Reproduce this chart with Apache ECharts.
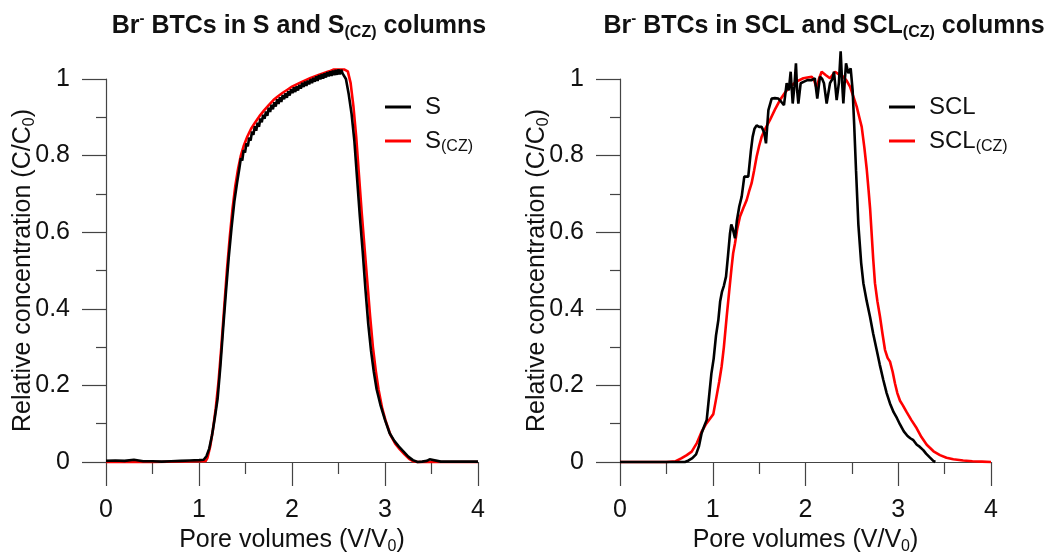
<!DOCTYPE html>
<html>
<head>
<meta charset="utf-8">
<script src="https://cdn.jsdelivr.net/npm/echarts@6/dist/echarts.min.js"></script>
<style>
html,body{margin:0;padding:0;background:#fff;}
#chart{width:1051px;height:557px;}
</style>
</head>
<body>
<div id="chart"></div>
<script>
// ---- Data (pore volume V/V0, relative concentration C/C0) ----
const xTicks = [0, 1, 2, 3, 4];
const yTicks = [0, 0.2, 0.4, 0.6, 0.8, 1];

const sBlack = [
[0,0.003],[0.1,0.004],[0.2,0.003],[0.3,0.006],[0.4,0.002],[0.5,0.002],[0.6,0.001],[0.7,0.002],[0.8,0.003],[0.9,0.004],[1.0,0.005],[1.05,0.006],
[1.08,0.015],[1.11,0.035],[1.14,0.07],[1.17,0.115],[1.2,0.165],[1.23,0.25],[1.26,0.35],[1.29,0.445],[1.32,0.535],[1.35,0.612],[1.38,0.68],[1.41,0.73],[1.435,0.768],
[1.45,0.793],[1.465,0.787],[1.48,0.814],[1.495,0.808],[1.51,0.832],[1.525,0.824],[1.54,0.847],[1.555,0.839],[1.57,0.863],[1.585,0.854],
[1.6,0.877],[1.615,0.865],[1.63,0.886],[1.645,0.875],[1.66,0.897],[1.675,0.887],[1.69,0.907],[1.705,0.896],[1.72,0.915],[1.735,0.904],
[1.75,0.925],[1.765,0.914],[1.78,0.933],[1.795,0.921],[1.81,0.939],[1.825,0.928],[1.84,0.947],[1.855,0.935],[1.87,0.952],[1.885,0.940],
[1.9,0.958],[1.915,0.947],[1.93,0.963],[1.945,0.951],[1.96,0.968],[1.975,0.957],[1.99,0.973],[2.005,0.963],[2.02,0.978],[2.035,0.966],
[2.05,0.981],[2.065,0.970],[2.08,0.985],[2.095,0.975],[2.11,0.990],[2.125,0.979],[2.14,0.993],[2.155,0.982],[2.17,0.996],[2.185,0.986],
[2.2,1.000],[2.215,0.989],[2.23,1.003],[2.245,0.993],[2.26,1.007],[2.275,0.995],[2.29,1.010],[2.305,0.999],[2.32,1.013],[2.335,1.001],
[2.35,1.015],[2.365,1.004],[2.38,1.018],[2.395,1.007],[2.41,1.020],[2.425,1.008],[2.44,1.022],[2.455,1.010],[2.47,1.024],[2.485,1.011],
[2.5,1.025],[2.515,1.012],[2.53,1.024],[2.545,1.014],
[2.58,1.0],[2.61,0.96],[2.64,0.91],[2.67,0.84],[2.7,0.74],[2.73,0.64],[2.76,0.55],[2.79,0.45],[2.82,0.36],[2.85,0.29],[2.88,0.235],[2.91,0.19],[2.95,0.15],
[3.0,0.11],[3.05,0.075],[3.1,0.055],[3.15,0.04],[3.2,0.027],[3.25,0.014],[3.3,0.005],[3.35,0.0],[3.4,0.001],[3.45,0.003],[3.48,0.007],[3.5,0.003],[3.6,0.001],[3.8,0.001],[4.0,0.001]
];
const sRed = [
[0,0.0],[0.5,0.0],[1.0,0.002],[1.07,0.002],[1.09,0.01],[1.12,0.04],[1.15,0.085],[1.18,0.14],[1.21,0.21],[1.24,0.3],[1.27,0.4],[1.3,0.5],[1.33,0.585],[1.36,0.66],
[1.39,0.72],[1.42,0.765],[1.45,0.8],[1.48,0.825],[1.52,0.85],[1.56,0.87],[1.6,0.885],[1.65,0.903],[1.7,0.918],[1.75,0.932],[1.8,0.945],[1.85,0.955],[1.9,0.964],
[1.95,0.972],[2.0,0.98],[2.1,0.992],[2.2,1.003],[2.3,1.012],[2.4,1.02],[2.45,1.025],[2.5,1.025],[2.56,1.025],[2.6,1.02],[2.63,0.99],[2.66,0.93],[2.69,0.85],
[2.72,0.75],[2.75,0.65],[2.78,0.56],[2.81,0.47],[2.84,0.38],[2.87,0.3],[2.9,0.24],[2.93,0.19],[2.97,0.14],[3.01,0.105],[3.06,0.07],[3.11,0.048],[3.16,0.033],
[3.21,0.02],[3.26,0.008],[3.3,0.002],[3.35,0.0],[4.0,0.0]
];
const sclBlack = [
[0,0],[0.5,0],[0.7,0],[0.74,0.004],[0.78,0.01],[0.82,0.02],[0.85,0.04],[0.88,0.075],[0.91,0.095],[0.935,0.11],[0.96,0.17],[0.985,0.23],[1.01,0.27],[1.035,0.33],
[1.06,0.37],[1.08,0.42],[1.1,0.445],[1.12,0.46],[1.143,0.484],[1.165,0.54],[1.186,0.597],[1.2,0.62],[1.215,0.61],[1.24,0.584],[1.26,0.63],[1.286,0.667],[1.312,0.693],
[1.34,0.745],[1.36,0.75],[1.383,0.745],[1.41,0.81],[1.43,0.849],[1.45,0.87],[1.473,0.879],[1.5,0.875],[1.527,0.875],[1.555,0.86],[1.574,0.832],[1.6,0.919],[1.635,0.949],
[1.67,0.95],[1.707,0.949],[1.74,0.94],[1.768,0.932],[1.797,0.989],[1.82,0.97],[1.84,1.019],[1.862,0.936],[1.88,0.98],[1.897,1.041],[1.91,0.97],[1.923,0.936],[1.948,0.989],
[1.984,0.993],[2.02,0.997],[2.067,0.997],[2.1,1.002],[2.127,0.949],[2.156,1.006],[2.18,1.0],[2.199,0.989],[2.228,0.936],[2.264,0.989],[2.29,1.0],[2.307,1.019],[2.336,0.945],
[2.36,0.99],[2.379,1.072],[2.395,0.99],[2.408,0.936],[2.425,1.0],[2.437,1.041],[2.462,1.015],[2.487,1.028],[2.508,0.971],[2.525,0.88],[2.545,0.76],[2.57,0.62],[2.6,0.52],
[2.624,0.467],[2.66,0.42],[2.695,0.38],[2.73,0.335],[2.767,0.293],[2.8,0.255],[2.839,0.214],[2.875,0.18],[2.911,0.153],[2.95,0.13],[2.985,0.115],[3.019,0.098],[3.06,0.08],
[3.1,0.068],[3.13,0.062],[3.163,0.057],[3.2,0.045],[3.23,0.04],[3.27,0.031],[3.3,0.022],[3.34,0.012],[3.378,0.003],[3.4,0]
];
const sclRed = [
[0,0],[0.5,0],[0.6,0.002],[0.665,0.01],[0.72,0.018],[0.773,0.027],[0.83,0.05],[0.88,0.079],[0.93,0.1],[0.97,0.113],[1.006,0.125],[1.04,0.17],[1.07,0.21],[1.096,0.25],
[1.12,0.3],[1.15,0.379],[1.177,0.445],[1.204,0.51],[1.22,0.545],[1.24,0.571],[1.265,0.61],[1.294,0.641],[1.33,0.663],[1.366,0.684],[1.39,0.705],[1.419,0.728],[1.445,0.76],
[1.473,0.797],[1.5,0.825],[1.527,0.849],[1.57,0.872],[1.617,0.893],[1.67,0.92],[1.725,0.945],[1.78,0.965],[1.833,0.98],[1.9,0.993],[1.977,1.002],[2.02,1.004],[2.067,1.006],
[2.095,0.995],[2.12,0.976],[2.145,1.0],[2.174,1.019],[2.22,1.01],[2.264,1.002],[2.29,1.01],[2.318,1.019],[2.36,1.012],[2.408,1.006],[2.445,0.995],[2.48,0.98],[2.515,0.955],
[2.552,0.928],[2.58,0.9],[2.606,0.875],[2.635,0.82],[2.66,0.765],[2.68,0.71],[2.697,0.66],[2.713,0.597],[2.73,0.53],[2.749,0.467],[2.775,0.42],[2.803,0.38],[2.83,0.335],
[2.857,0.293],[2.885,0.272],[2.911,0.262],[2.94,0.235],[2.965,0.205],[2.99,0.18],[3.019,0.16],[3.05,0.148],[3.091,0.13],[3.14,0.11],[3.199,0.088],[3.25,0.065],[3.307,0.045],
[3.38,0.028],[3.45,0.018],[3.52,0.011],[3.594,0.007],[3.7,0.004],[3.8,0.002],[3.9,0.001],[4.0,0.0]
];

const titles = ['Br{sup|-} BTCs in S and S{sub|(CZ)} columns', 'Br{sup|-} BTCs in SCL and SCL{sub|(CZ)} columns'];
const legendNames = [['S', 'S(CZ)'], ['SCL', 'SCL(CZ)']];
const xName = 'Pore volumes (V/V{sub|0})';
const yName = 'Relative concentration (C/C{sub|0})';

// ---- Styling ----
const FONT = '"Liberation Sans", Arial, Helvetica, sans-serif';
const AX = '#444';
const grids = [
  {left: 106, top: 79, width: 372, height: 383, outerBoundsMode: 'none', containLabel: false},
  {left: 620, top: 79, width: 371, height: 383, outerBoundsMode: 'none', containLabel: false}
];
const subRich = {
  sub: {fontSize: 16, fontFamily: FONT, color: '#111', verticalAlign: 'bottom', lineHeight: 16}
};

function makeX(i) {
  return {
    type: 'value', gridIndex: i, min: xTicks[0], max: xTicks[xTicks.length - 1], interval: 1,
    axisLine: {show: true, onZero: false, lineStyle: {color: AX, width: 1.2}},
    axisTick: {show: true, length: 24, lineStyle: {color: AX, width: 1.2}},
    minorTick: {show: true, splitNumber: 2, length: 12, lineStyle: {color: AX, width: 1.2}},
    splitLine: {show: false}, minorSplitLine: {show: false},
    axisLabel: {fontSize: 25, fontFamily: FONT, color: '#111', margin: 36},
    name: xName, nameLocation: 'middle', nameGap: 63, nameMoveOverlap: false,
    nameTextStyle: {fontSize: 25, fontFamily: FONT, color: '#111', lineHeight: 30, rich: subRich}
  };
}
function makeY(i) {
  return {
    type: 'value', gridIndex: i, min: yTicks[0], max: yTicks[yTicks.length - 1], interval: 0.2,
    axisLine: {show: true, lineStyle: {color: AX, width: 1.2}},
    axisTick: {show: true, length: 24, lineStyle: {color: AX, width: 1.2}},
    minorTick: {show: true, splitNumber: 2, length: 10, lineStyle: {color: AX, width: 1.2}},
    splitLine: {show: false}, minorSplitLine: {show: false},
    axisLabel: {fontSize: 25, fontFamily: FONT, color: '#111', margin: 36},
    name: yName, nameLocation: 'middle', nameGap: 68, nameMoveOverlap: false,
    nameTextStyle: {fontSize: 25, fontFamily: FONT, color: '#111', lineHeight: 30, rich: subRich}
  };
}
function makeTitle(i, cx) {
  return {
    text: titles[i], left: cx, top: 6, textAlign: 'center',
    textStyle: {
      fontSize: 25, fontWeight: 'bold', fontFamily: FONT, color: '#111', lineHeight: 30,
      rich: {
        sup: {fontSize: 15, fontWeight: 'bold', fontFamily: FONT, color: '#111', verticalAlign: 'top', lineHeight: 18},
        sub: {fontSize: 16, fontWeight: 'bold', fontFamily: FONT, color: '#111', verticalAlign: 'bottom', lineHeight: 16}
      }
    }
  };
}
function makeLegend(i, left) {
  return {
    data: legendNames[i], orient: 'vertical', left: left, top: 88,
    icon: 'rect', itemWidth: 26, itemHeight: 3, itemGap: 6,
    formatter: function (n) { return n.replace('(CZ)', '{sub|(CZ)}'); },
    textStyle: {fontSize: 24, fontFamily: FONT, color: '#111', lineHeight: 28, padding: [0, 0, 0, 9], rich: subRich}
  };
}
function line(name, data, color, xi, z) {
  return {
    name: name, type: 'line', data: data, xAxisIndex: xi, yAxisIndex: xi,
    showSymbol: false, symbol: 'none', z: z, clip: false,
    lineStyle: {color: color, width: 2.6}, itemStyle: {color: color}
  };
}

const chart = echarts.init(document.getElementById('chart'), null, {renderer: 'canvas'});
chart.setOption({
  animation: false,
  backgroundColor: '#fff',
  title: [makeTitle(0, 294), makeTitle(1, 819)],
  legend: [makeLegend(0, 380), makeLegend(1, 884)],
  grid: grids,
  xAxis: [makeX(0), makeX(1)],
  yAxis: [makeY(0), makeY(1)],
  series: [
    line('S(CZ)', sRed, '#ff0000', 0, 2),
    line('S', sBlack, '#000000', 0, 3),
    line('SCL(CZ)', sclRed, '#ff0000', 1, 2),
    line('SCL', sclBlack, '#000000', 1, 3)
  ]
});
</script>
</body>
</html>
